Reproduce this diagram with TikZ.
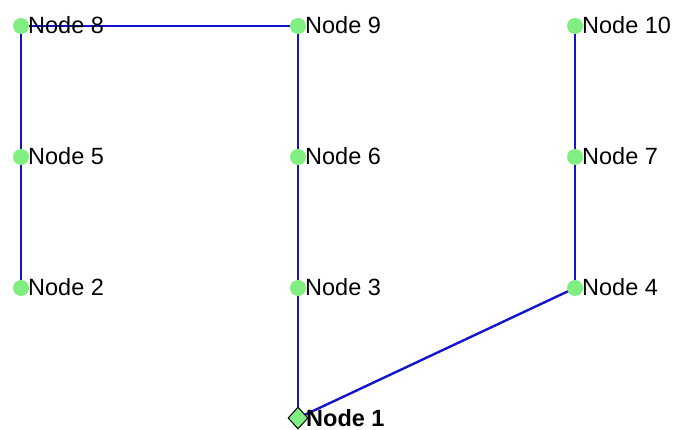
\documentclass[tikz,border=0pt]{standalone}
\usepackage{fontspec}
\setmainfont{Liberation Sans}
\usetikzlibrary{shapes.geometric}
\definecolor{nodegreen}{RGB}{128,238,128}
\definecolor{edgeblue}{RGB}{20,20,205}
\begin{document}
\begin{tikzpicture}[x=1pt,y=-1pt,
  dot/.style={circle,fill=nodegreen,inner sep=0pt,minimum size=16pt},
  root/.style={diamond,draw=black,fill=nodegreen,inner sep=0pt,minimum width=20pt,minimum height=22pt,line width=1pt},
  lbl/.style={anchor=base west,inner sep=0pt,font=\fontsize{23.5}{28}\selectfont},
  edge/.style={draw=edgeblue,line width=2.4pt}]
\useasboundingbox (0,0) rectangle (680,430);
% node positions
\coordinate (p8) at (21,26);
\coordinate (p9) at (298,26);
\coordinate (p10) at (575,26);
\coordinate (p5) at (21,157);
\coordinate (p6) at (298,157);
\coordinate (p7) at (575,157);
\coordinate (p2) at (21,288);
\coordinate (p3) at (298,288);
\coordinate (p4) at (575,288);
\coordinate (p1) at (298,418);
% edges
\draw[edge] (p8) -- (p9);
\draw[edge] (p8) -- (p5);
\draw[edge] (p5) -- (p2);
\draw[edge] (p9) -- (p6);
\draw[edge] (p6) -- (p3);
\draw[edge] (p3) -- (p1);
\draw[edge] (p1) -- (p4);
\draw[edge] (p4) -- (p7);
\draw[edge] (p7) -- (p10);
% nodes
\foreach \n in {2,3,4,5,6,7,8,9,10}{
  \node[dot] (n\n) at (p\n) {};
  \node[lbl] (l\n) at ([xshift=7pt,yshift=-8pt]p\n) {Node \n};
}
\node[root] (n1) at (p1) {};
\node[lbl,font=\fontsize{23.5}{28}\selectfont\bfseries] (l1) at ([xshift=8pt,yshift=-8pt]p1) {Node 1};
\end{tikzpicture}
\end{document}
